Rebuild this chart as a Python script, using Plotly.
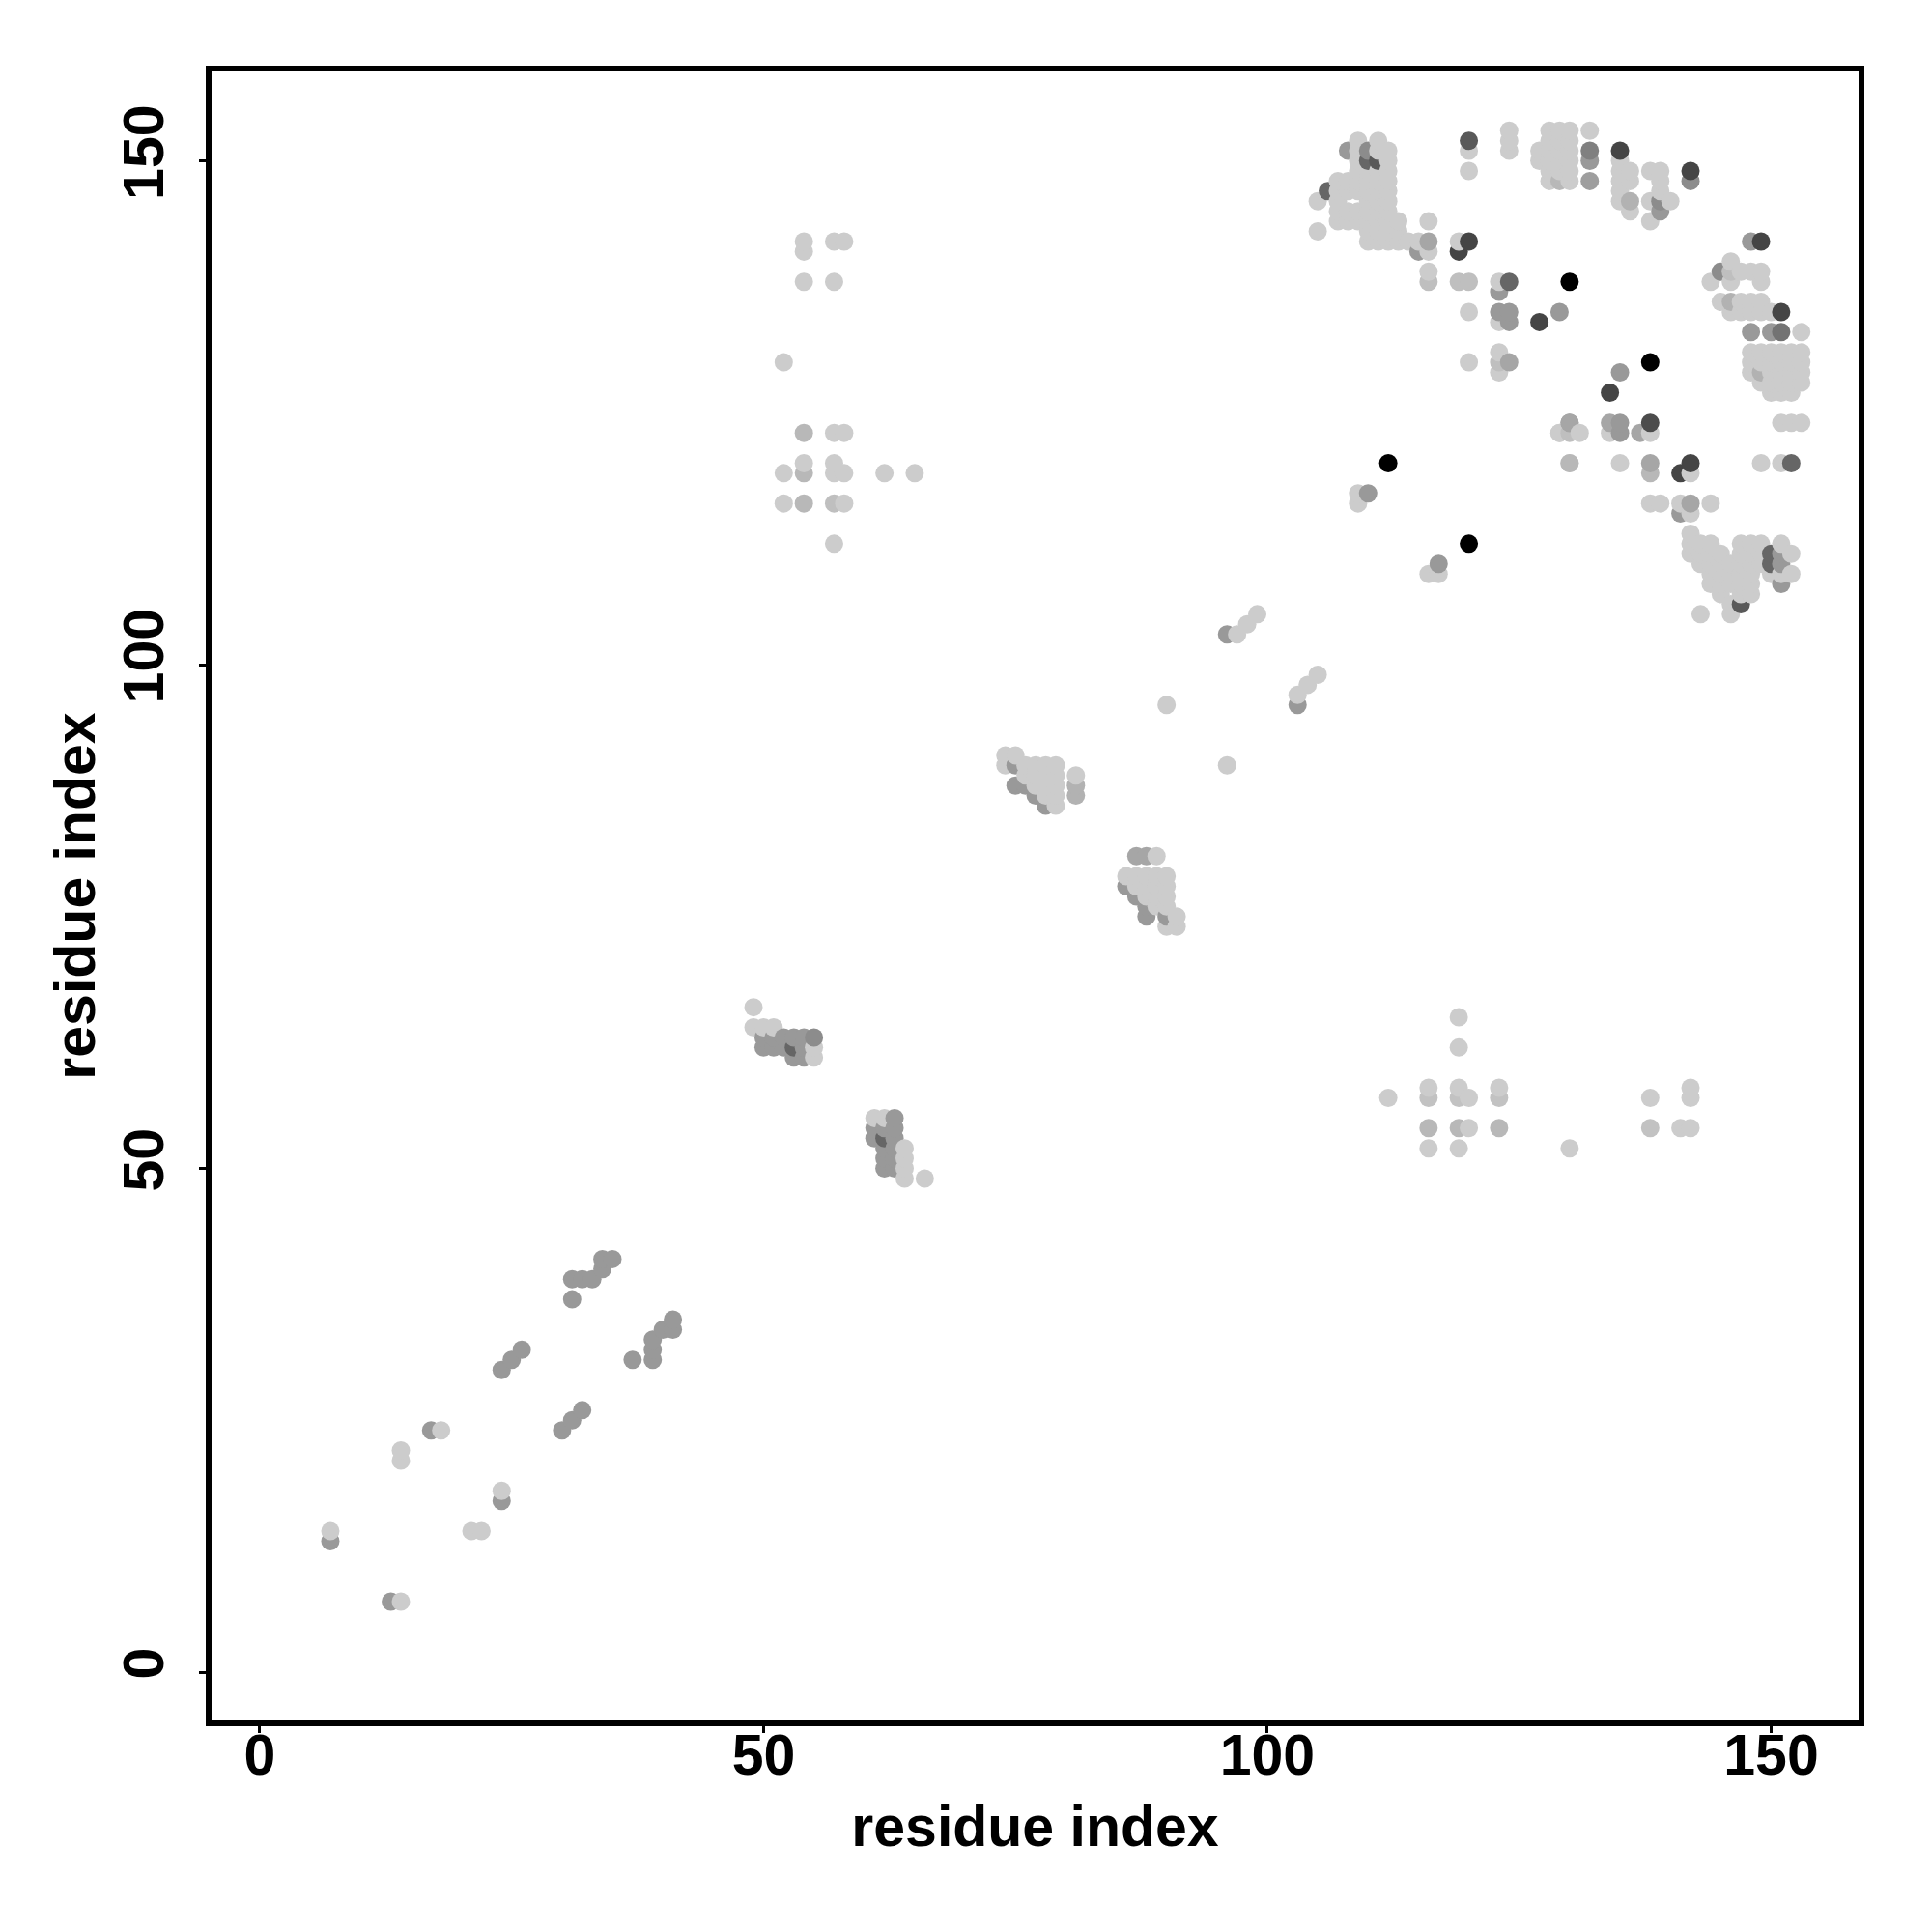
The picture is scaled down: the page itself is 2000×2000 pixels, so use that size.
import plotly.graph_objects as go

# contact pairs: residue i (x), residue j (y), gray level (0 = black, 1 = white)
res_i = [
    7, 7, 13, 14, 14, 14, 17, 18, 21, 22, 24, 24, 24, 25, 26, 30, 31, 32, 31, 31, 32, 33, 34, 34, 35, 37, 39, 39, 39, 40, 41, 41,
    49, 49, 50, 51, 50, 51, 52, 53, 54, 55, 50, 51, 52, 53, 54, 55, 53, 54, 55,
    61, 62, 63, 61, 62, 63, 61, 62, 63, 62, 63, 64, 62, 63, 64, 62, 63, 64, 64, 66,
    96, 90, 96, 97, 98, 99, 103, 103, 104, 105,
    74, 75, 74, 75, 76, 77, 78, 79, 76, 77, 78, 79, 75, 76, 77, 78, 79, 77, 78, 79, 78, 79, 81, 81, 81,
    87, 88, 89, 86, 87, 88, 89, 90, 86, 87, 88, 89, 90, 87, 88, 89, 90, 88, 89, 90, 88, 90, 91, 90, 91,
    54, 54, 57, 58, 54, 57, 52, 54, 57, 58, 54, 57, 52, 54, 57, 58, 62, 65, 52, 54, 57, 58, 57,
    112, 116, 116, 116, 116, 119, 119, 119, 119, 119, 119, 120, 120, 123, 123, 123, 130, 138, 138, 141, 142, 142, 142,
    109, 109, 110, 112, 116, 117, 117, 120, 129, 130, 130,
    109, 111, 108, 109, 110, 111, 112, 109, 110, 111, 112, 109, 110, 111, 112,
    107, 108, 109, 110, 111, 112, 106, 107, 108, 109, 110, 111, 112, 105, 107, 110, 111, 112,
    107, 108, 109, 110, 111, 112, 107, 108, 109, 110, 111, 112, 113, 105, 110, 111, 112, 113, 110, 111, 112, 113, 114,
    116, 115, 116, 115, 116, 116, 116, 119, 120, 119, 119, 120, 123, 124, 123, 130, 120, 123, 124, 123, 124, 127, 129,
    120, 123, 123, 124, 123, 120, 120, 120, 124, 124, 124, 127, 127,
    128, 129, 130, 128, 129, 130, 128, 129, 130, 128, 129, 130, 128, 129, 130, 128, 129, 130,
    132, 132, 132, 132, 135, 135, 135, 135, 135, 135, 136, 136, 136, 136, 138, 139, 139, 139, 138, 139, 140, 139, 138, 142, 142,
    148, 149, 146, 145, 146, 147, 148, 149, 144, 146, 149, 145, 146, 147, 148, 149, 146, 147, 148, 149, 150, 151,
    135, 134, 138, 148, 150, 151, 153,
    148, 149, 150, 151, 152, 153, 148, 149, 150, 151, 152, 153, 148, 149, 150, 151, 152, 153, 149, 150, 151, 152, 153, 150, 151, 152,
    130, 134, 135, 138, 151, 152, 153, 129, 130, 131, 134, 135, 137, 138, 130, 135, 138, 142, 149, 151, 152, 138, 141, 142,
    138, 139, 141, 142, 144, 141, 142,
    142, 142, 143, 144, 147, 148, 149, 151, 142, 143, 144, 145, 147, 148, 149, 150, 151, 152,
    143, 144, 145, 146, 147, 148, 149, 150, 151, 144, 145, 146, 147, 148, 150, 151, 152,
    144, 145, 146, 147, 148, 151, 145, 147, 148, 146, 147, 143, 146,
]
res_j = [
    13, 14, 7, 7, 21, 22, 24, 24, 14, 14, 17, 18, 30, 31, 32, 24, 25, 26, 37, 39, 39, 39, 40, 41, 41, 31, 31, 32, 33, 34, 34, 35,
    66, 64, 64, 64, 63, 63, 63, 63, 63, 63, 62, 62, 62, 62, 62, 62, 61, 61, 61,
    55, 55, 55, 54, 54, 54, 53, 53, 53, 52, 52, 52, 51, 51, 51, 50, 50, 50, 49, 49,
    90, 96, 103, 103, 104, 105, 96, 97, 98, 99,
    91, 91, 90, 90, 90, 90, 90, 90, 89, 89, 89, 89, 88, 88, 88, 88, 88, 87, 87, 87, 86, 86, 89, 88, 87,
    81, 81, 81, 79, 79, 79, 79, 79, 78, 78, 78, 78, 78, 77, 77, 77, 77, 76, 76, 76, 75, 75, 75, 74, 74,
    142, 141, 142, 142, 138, 138, 130, 123, 123, 123, 120, 120, 119, 119, 119, 119, 119, 119, 116, 116, 116, 116, 112,
    57, 58, 57, 54, 52, 65, 62, 58, 57, 54, 52, 57, 54, 58, 57, 54, 52, 57, 54, 54, 54, 58, 57,
    117, 116, 117, 120, 109, 109, 110, 112, 123, 124, 120,
    152, 152, 151, 151, 151, 151, 151, 150, 150, 150, 150, 149, 149, 149, 149,
    148, 148, 148, 148, 148, 148, 147, 147, 147, 147, 147, 147, 147, 146, 146, 146, 146, 146,
    145, 145, 145, 145, 145, 145, 144, 144, 144, 144, 144, 144, 144, 143, 143, 143, 143, 143, 142, 142, 142, 142, 142,
    144, 142, 142, 141, 141, 139, 138, 142, 142, 141, 138, 138, 138, 138, 137, 138, 135, 135, 135, 134, 134, 134, 135,
    130, 131, 130, 130, 129, 152, 151, 149, 153, 152, 151, 151, 150,
    153, 153, 153, 152, 152, 152, 151, 151, 151, 150, 150, 150, 149, 149, 149, 148, 148, 148,
    153, 151, 150, 148, 151, 150, 149, 148, 147, 146, 149, 148, 146, 145, 149, 149, 148, 147, 146, 146, 146, 145, 144, 149, 148,
    142, 142, 140, 139, 139, 139, 139, 139, 138, 138, 138, 136, 136, 136, 136, 136, 135, 135, 135, 135, 135, 135,
    129, 127, 130, 133, 133, 133, 133,
    131, 131, 131, 131, 131, 131, 130, 130, 130, 130, 130, 130, 129, 129, 129, 129, 129, 129, 128, 128, 128, 128, 128, 127, 127, 127,
    124, 124, 124, 124, 124, 124, 124, 123, 123, 123, 123, 123, 123, 123, 120, 120, 120, 120, 120, 120, 120, 119, 119, 119,
    116, 116, 116, 116, 116, 115, 115,
    113, 112, 112, 112, 112, 112, 112, 112, 111, 111, 111, 111, 111, 111, 111, 111, 111, 111,
    110, 110, 110, 110, 110, 110, 110, 110, 110, 109, 109, 109, 109, 109, 109, 109, 109,
    108, 108, 108, 108, 108, 108, 107, 107, 107, 106, 106, 105, 105,
]
gray_level = [
    0.6, 0.8, 0.6, 0.8, 0.8, 0.8, 0.6, 0.8, 0.8, 0.8, 0.6, 0.8, 0.6, 0.6, 0.6, 0.6, 0.6, 0.6, 0.6, 0.6, 0.6, 0.6, 0.6, 0.6, 0.6, 0.6, 0.6, 0.6, 0.6, 0.6, 0.6, 0.6,
    0.8, 0.8, 0.8, 0.8, 0.6, 0.6, 0.6, 0.6, 0.6, 0.55, 0.6, 0.6, 0.6, 0.4, 0.6, 0.8, 0.6, 0.6, 0.8,
    0.8, 0.8, 0.6, 0.6, 0.6, 0.6, 0.6, 0.4, 0.6, 0.6, 0.6, 0.8, 0.6, 0.6, 0.8, 0.6, 0.6, 0.8, 0.8, 0.8,
    0.8, 0.8, 0.6, 0.8, 0.8, 0.8, 0.6, 0.8, 0.8, 0.8,
    0.8, 0.8, 0.8, 0.6, 0.8, 0.8, 0.8, 0.8, 0.8, 0.8, 0.8, 0.8, 0.6, 0.6, 0.8, 0.8, 0.8, 0.6, 0.8, 0.8, 0.6, 0.8, 0.8, 0.7, 0.7,
    0.65, 0.65, 0.8, 0.8, 0.8, 0.8, 0.8, 0.8, 0.6, 0.8, 0.8, 0.8, 0.8, 0.6, 0.8, 0.8, 0.8, 0.6, 0.8, 0.8, 0.6, 0.6, 0.8, 0.8, 0.8,
    0.8, 0.8, 0.8, 0.8, 0.8, 0.8, 0.8, 0.72, 0.8, 0.8, 0.8, 0.8, 0.8, 0.72, 0.8, 0.8, 0.8, 0.8, 0.8, 0.72, 0.75, 0.8, 0.8,
    0.8, 0.8, 0.76, 0.72, 0.8, 0.8, 0.8, 0.8, 0.76, 0.72, 0.8, 0.8, 0.8, 0.8, 0.76, 0.72, 0.8, 0.8, 0.76, 0.8, 0.8, 0.8, 0.8,
    0.8, 0.8, 0.6, 0.0, 0.8, 0.8, 0.6, 0.0, 0.8, 0.65, 0.8,
    0.8, 0.8, 0.6, 0.8, 0.55, 0.8, 0.8, 0.8, 0.4, 0.35, 0.8, 0.8, 0.8, 0.8, 0.8,
    0.8, 0.8, 0.8, 0.8, 0.8, 0.8, 0.4, 0.8, 0.8, 0.8, 0.8, 0.8, 0.8, 0.8, 0.8, 0.8, 0.8, 0.8,
    0.8, 0.8, 0.8, 0.8, 0.8, 0.8, 0.8, 0.8, 0.8, 0.8, 0.8, 0.8, 0.8, 0.8, 0.8, 0.8, 0.8, 0.8, 0.8, 0.8, 0.8, 0.8, 0.8,
    0.8, 0.8, 0.65, 0.6, 0.8, 0.8, 0.75, 0.8, 0.27, 0.27, 0.75, 0.75, 0.8, 0.4, 0.6, 0.0, 0.8, 0.6, 0.6, 0.8, 0.6, 0.27, 0.6,
    0.8, 0.8, 0.75, 0.65, 0.8, 0.35, 0.8, 0.8, 0.8, 0.8, 0.8, 0.8, 0.8,
    0.8, 0.8, 0.8, 0.8, 0.8, 0.8, 0.8, 0.8, 0.8, 0.8, 0.8, 0.8, 0.8, 0.8, 0.8, 0.8, 0.72, 0.8,
    0.8, 0.5, 0.6, 0.62, 0.27, 0.8, 0.8, 0.8, 0.8, 0.8, 0.8, 0.8, 0.7, 0.8, 0.8, 0.8, 0.8, 0.8, 0.8, 0.55, 0.8, 0.6, 0.8, 0.27, 0.55,
    0.6, 0.27, 0.8, 0.55, 0.75, 0.8, 0.8, 0.8, 0.8, 0.8, 0.8, 0.8, 0.7, 0.8, 0.8, 0.8, 0.8, 0.8, 0.8, 0.8, 0.8, 0.27,
    0.6, 0.27, 0.0, 0.6, 0.6, 0.45, 0.8,
    0.8, 0.8, 0.8, 0.8, 0.8, 0.8, 0.8, 0.8, 0.8, 0.8, 0.8, 0.8, 0.8, 0.7, 0.8, 0.8, 0.8, 0.8, 0.8, 0.8, 0.8, 0.8, 0.8, 0.8, 0.8, 0.8,
    0.65, 0.65, 0.6, 0.3, 0.8, 0.8, 0.8, 0.8, 0.75, 0.8, 0.8, 0.6, 0.65, 0.8, 0.72, 0.8, 0.65, 0.27, 0.8, 0.8, 0.4, 0.72, 0.27, 0.8,
    0.8, 0.8, 0.8, 0.65, 0.8, 0.6, 0.8,
    0.8, 0.8, 0.8, 0.8, 0.8, 0.8, 0.8, 0.8, 0.8, 0.8, 0.8, 0.8, 0.8, 0.8, 0.8, 0.4, 0.6, 0.8,
    0.8, 0.8, 0.8, 0.8, 0.8, 0.8, 0.8, 0.4, 0.6, 0.8, 0.8, 0.8, 0.8, 0.8, 0.8, 0.8, 0.8,
    0.8, 0.8, 0.8, 0.8, 0.8, 0.6, 0.8, 0.8, 0.8, 0.8, 0.35, 0.8, 0.8,
]

x_ticks = [0, 50, 100, 150]
y_ticks = [0, 50, 100, 150]
x_title = "residue index"
y_title = "residue index"

n = min(len(res_i), len(res_j), len(gray_level))
pts = sorted(zip(res_i[:n], res_j[:n], gray_level[:n]), key=lambda p: (p[0], p[1]))
xs = [p[0] for p in pts]
ys = [p[1] for p in pts]


def gray(v):
    c = int(round(v * 255))
    return f"rgb({c},{c},{c})"


cols = [gray(p[2]) for p in pts]

fig = go.Figure(
    go.Scatter(
        x=xs, y=ys, mode="markers",
        marker=dict(size=19, color=cols, line=dict(width=0)),
        hoverinfo="x+y",
    )
)

FONT = dict(family="Liberation Sans, Arial, Helvetica, sans-serif", size=59, color="black", weight="bold")

axis_common = dict(
    showgrid=False, zeroline=False,
    showline=True, linecolor="black", linewidth=5.5, mirror=True,
    ticks="outside", ticklen=7, tickwidth=3, tickcolor="black",
    tickfont=FONT, automargin=False,
)

fig.update_layout(
    width=2000, height=2000,
    paper_bgcolor="white", plot_bgcolor="white",
    margin=dict(l=211, r=84, t=66, b=227),
    showlegend=False,
    font=FONT,
    xaxis=dict(range=[-4.79, 158.68], tickvals=x_ticks, ticktext=[str(v) for v in x_ticks],
               ticklabelstandoff=-28,
               title=dict(text=x_title, font=FONT, standoff=23), **axis_common),
    yaxis=dict(range=[-4.79, 158.87], tickvals=y_ticks, ticktext=[str(v) for v in y_ticks],
               tickangle=-90, ticklabelstandoff=14,
               title=dict(text=y_title, font=FONT, standoff=0), **axis_common),
)

fig.write_html("out.html")
